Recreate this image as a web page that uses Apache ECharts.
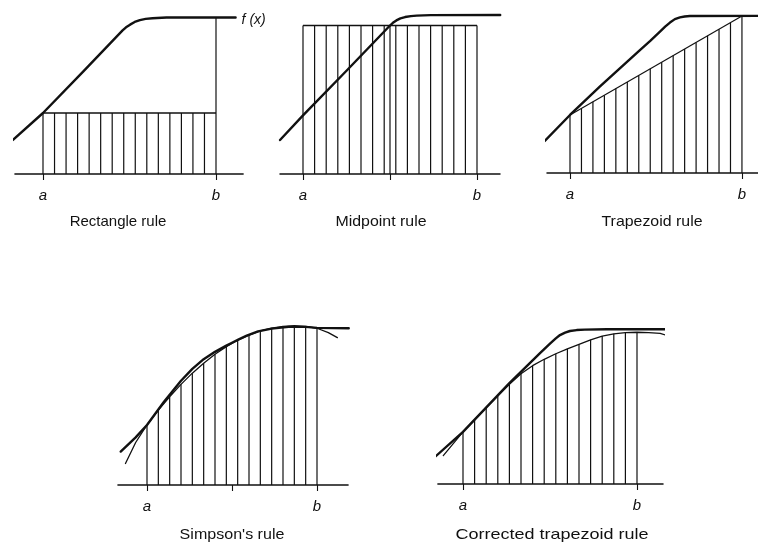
<!DOCTYPE html>
<html><head><meta charset="utf-8">
<script src="https://cdn.jsdelivr.net/npm/echarts@6/dist/echarts.min.js"></script>
<style>html,body{margin:0;padding:0;background:#fff}#c{width:758px;height:542px}</style>
</head><body><div id="c"></div>
<script>
// ---------- data (x in strip units: a = 0, b = 15; y = height above the axis) ----------
const stripX = [0,1,2,3,4,5,6,7,8,9,10,11,12,13,14,15];
const tickLabels = ['a', 'b'];
const titles = ['Rectangle rule', 'Midpoint rule', 'Trapezoid rule', "Simpson's rule", 'Corrected trapezoid rule'];
const fLabel = 'f (x)';
const midX = 7.5;

// Rectangle rule
const f1 = [[-2.6,2.95],[0,5.29],[3.5,8.9],[6.9,12.45],[7.2,12.72],[7.55,12.95],[7.95,13.18],[8.4,13.34],[8.9,13.45],[9.5,13.51],[10.7,13.57],[16.7,13.57]];
const rectTop = [[0,5.29],[15,5.29]];
const rectHeights = [5.29,5.29,5.29,5.29,5.29,5.29,5.29,5.29,5.29,5.29,5.29,5.29,5.29,5.29,5.29,13.57];
// Midpoint rule
const f2 = [[-1.98,2.93],[0,5.05],[3.75,8.9],[7.5,12.8],[7.75,13.03],[8.05,13.24],[8.4,13.42],[8.8,13.53],[9.3,13.61],[9.8,13.65],[11,13.7],[17,13.71]];
const midTop = [[0,12.8],[15,12.8]];
const midHeights = [12.8,12.8,12.8,12.8,12.8,12.8,12.8,12.8,12.8,12.8,12.8,12.8,12.8,12.8,12.8,12.8];
const midLineHeight = 12.8;
// Trapezoid rule
const f3 = [[-2.2,2.8],[0,5.06],[2.62,7.55],[6.1,10.72],[7.0,11.52],[7.85,12.32],[8.3,12.76],[8.72,13.12],[9.15,13.42],[9.59,13.57],[10.0,13.65],[10.46,13.69],[16.4,13.7]];
const chord = [[0,5.06],[15,13.69]];
const trapHeights = [5.06,5.64,6.21,6.79,7.36,7.94,8.51,9.09,9.66,10.24,10.81,11.39,11.96,12.54,13.11,13.69];
// Simpson's rule
const f4 = [[-2.32,2.95],[-1,4.2],[0,5.3],[1.5,7.35],[3,9.2],[4,10.25],[5,11.1],[6,11.75],[7,12.3],[7.5,12.55],[8.1,12.85],[8.8,13.18],[9.8,13.55],[11,13.8],[12.5,13.95],[14,13.95],[15,13.86],[17.8,13.83]];
const parabola = [[-1.9,1.9],[-1,3.75],[0,5.3],[1,6.6],[2,7.79],[3,8.88],[4,9.87],[5,10.75],[6,11.53],[7,12.2],[8,12.77],[9,13.23],[10,13.59],[11,13.85],[12,14.0],[13,14.05],[14,13.99],[15,13.83],[16,13.45],[16.8,13.0]];
const simpsonHeights = [5.3,6.6,7.79,8.88,9.87,10.75,11.53,12.2,12.77,13.23,13.59,13.85,14.0,14.05,13.99,13.83];
// Corrected trapezoid rule
const f5 = [[-2.4,2.35],[0,4.5],[4,8.7],[6.64,11.29],[7.5,12.1],[8.0,12.55],[8.36,12.84],[8.8,13.05],[9.22,13.19],[9.8,13.27],[10.5,13.31],[12.4,13.34],[17.8,13.34]];
const corrCurve = [[-1.7,2.45],[0,4.5],[1,5.55],[2,6.6],[3,7.6],[4,8.6],[5,9.5],[6,10.2],[7,10.75],[8,11.23],[9,11.65],[10,12.03],[11,12.43],[12,12.75],[13,12.95],[14,13.05],[15,13.08],[16,13.05],[17,12.98],[17.7,12.76]];
const corrHeights = [4.5,5.55,6.6,7.6,8.6,9.5,10.2,10.75,11.23,11.65,12.03,12.43,12.75,12.95,13.05,13.08];

// ---------- layout ----------
const INK = '#111';
const panels = [
  {aPx:43,  bPx:216, basePx:174, xMin:-2.43, xMax:17.35, ticks:[0,15],      tx:118, ty:221, sx:1.0},
  {aPx:303, bPx:477, basePx:174, xMin:-1.98, xMax:16.98, ticks:[0,7.5,15], tx:381, ty:221, sx:1.06},
  {aPx:570, bPx:742, basePx:173, xMin:-2.0,  xMax:16.4,  ticks:[0,15],      tx:652, ty:221, sx:1.06},
  {aPx:147, bPx:317, basePx:485, xMin:-2.56, xMax:17.74, ticks:[0,7.5,15], tx:232, ty:534, sx:1.07},
  {aPx:463, bPx:637, basePx:484, xMin:-2.16, xMax:17.24, ticks:[0,15],      tx:552, ty:534, sx:1.2}
];
const Y_MAX = 15;

const grids = [], xAxes = [], yAxes = [], graphics = [];
panels.forEach((p, i) => {
  const u = (p.bPx - p.aPx) / 15;
  grids.push({left: p.aPx + p.xMin * u, width: (p.xMax - p.xMin) * u, top: p.basePx - Y_MAX * u, height: Y_MAX * u});
  xAxes.push({
    type:'value', gridIndex:i, min:p.xMin, max:p.xMax,
    axisLine:{show:true, onZero:true, lineStyle:{color:INK, width:1.6}},
    axisTick:{show:true, customValues:p.ticks, length:6, lineStyle:{color:INK, width:1.1}},
    axisLabel:{show:true, customValues:[0,15], margin:14,
      formatter:v => (v === 0 ? tickLabels[0] : tickLabels[1]),
      fontStyle:'italic', fontSize:15, fontFamily:'Liberation Sans', color:INK},
    splitLine:{show:false}
  });
  yAxes.push({type:'value', gridIndex:i, min:0, max:Y_MAX, show:false, splitLine:{show:false}});
  graphics.push({type:'text', x:p.tx, y:p.ty + 1, scaleX:p.sx, style:{text:titles[i], fill:INK,
    font:'15px "Liberation Sans"', align:'center', verticalAlign:'middle'}});
});

function curve(i, data, width, extra) {
  return Object.assign({type:'line', xAxisIndex:i, yAxisIndex:i, data:data, showSymbol:false,
    smooth:false, clip:false, silent:true,
    lineStyle:{color:INK, width:width, join:'round', cap:'round'}}, extra || {});
}
function straight(i, data, width) {
  return {type:'line', xAxisIndex:i, yAxisIndex:i, data:data, showSymbol:false, clip:false, silent:true,
    lineStyle:{color:INK, width:width}};
}
function verticals(i, pairs) {
  return {type:'custom', xAxisIndex:i, yAxisIndex:i, data:pairs, clip:false, silent:true,
    encode:{x:0, y:1},
    renderItem:(params, api) => {
      const p0 = api.coord([api.value(0), 0]);
      const p1 = api.coord([api.value(0), api.value(1)]);
      return {type:'line', shape:{x1:p0[0], y1:p0[1], x2:p1[0], y2:p1[1]},
        style:{stroke:INK, lineWidth:1.2}};
    }};
}
const zip = h => stripX.map((x, k) => [x, h[k]]);

const series = [
  verticals(0, zip(rectHeights)),
  straight(0, rectTop, 1.5),
  curve(0, f1, 2.4, {endLabel:{show:true, formatter:fLabel, fontStyle:'italic', fontSize:14,
    fontFamily:'Liberation Sans', color:INK, distance:6, offset:[0,3]}}),

  verticals(1, zip(midHeights).concat([[midX, midLineHeight]])),
  straight(1, midTop, 1.5),
  curve(1, f2, 2.4),

  verticals(2, zip(trapHeights)),
  straight(2, chord, 1.2),
  curve(2, f3, 2.4),

  verticals(3, zip(simpsonHeights)),
  curve(3, parabola, 1.3),
  curve(3, f4, 2.4),

  verticals(4, zip(corrHeights)),
  curve(4, corrCurve, 1.3),
  curve(4, f5, 2.4)
];

const chart = echarts.init(document.getElementById('c'), null, {renderer:'canvas'});
chart.setOption({
  animation:false,
  backgroundColor:'#fff',
  grid:grids, xAxis:xAxes, yAxis:yAxes, series:series, graphic:graphics
});
</script>
</body></html>
